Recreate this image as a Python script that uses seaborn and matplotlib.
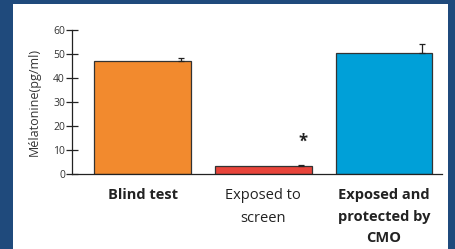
import matplotlib
matplotlib.use("Agg")
import matplotlib.pyplot as plt
import seaborn as sns
from matplotlib.patches import Rectangle

# Données
groupes = ["Blind test", "Exposed to\nscreen", "Exposed and\nprotected by\nCMO"]
valeurs = [47.2, 3.5, 50.3]
erreurs = [1.3, 0.3, 3.9]
couleurs = ["#F28A2E", "#E8443A", "#00A0D8"]
gras = [True, False, True]
yticks = [0, 10, 20, 30, 40, 50, 60]

sns.set_style("white")
plt.rcParams["font.family"] = ["Open Sans", "DejaVu Sans"]

fig = plt.figure(figsize=(4.55, 2.49), dpi=100)
fig.patch.set_facecolor("#1F4A7C")
fig.patches.append(Rectangle((13 / 455, 0), (448 - 13) / 455, 1 - 4 / 249,
                             transform=fig.transFigure, facecolor="white",
                             edgecolor="none", zorder=-10))

ax = fig.add_axes([72 / 455, 1 - 174 / 249, (442 - 72) / 455, (174 - 30) / 249])
ax.set_zorder(5)
ax.set_facecolor("none")

sns.barplot(x=groupes, y=valeurs, hue=groupes, palette=couleurs, legend=False,
            saturation=1, width=0.8, edgecolor="#333333", linewidth=0.9, ax=ax, zorder=2)

# barres d'erreur (vers le haut seulement), décalées vers la droite
xs = [i + 0.315 for i in range(len(groupes))]
ax.errorbar(xs, valeurs, yerr=[[0] * len(erreurs), erreurs], fmt="none",
            ecolor="#222222", elinewidth=0.9, capsize=2.5, capthick=0.9, zorder=3)

ax.text(1.33, 13.3, "*", ha="center", va="center", fontsize=12, fontweight="bold",
        color="#222222")

ax.set_xlim(-0.585, 2.48)
ax.set_ylim(0, 60)
ax.set_yticks(yticks)
ax.set_yticklabels([str(t) for t in yticks], fontsize=7.5, color="#333333")
ax.tick_params(axis="y", left=True, direction="inout", length=8, width=0.9,
               color="#222222", pad=1)
ax.tick_params(axis="x", bottom=False, length=0, pad=10)
ax.set_xticks(range(len(groupes)))
ax.set_xticklabels(groupes, fontsize=10.5, color="#222222", linespacing=1.7, va="top")
for lab, b in zip(ax.get_xticklabels(), gras):
    lab.set_fontweight("bold" if b else "normal")

ax.set_ylabel("Mélatonine(pg/ml)", fontsize=9, color="#333333", labelpad=9)

for s in ["top", "right"]:
    ax.spines[s].set_visible(False)
for s in ["left", "bottom"]:
    ax.spines[s].set_color("#222222")
    ax.spines[s].set_linewidth(0.9)

fig.savefig("out.png", dpi=100, facecolor=fig.get_facecolor())
